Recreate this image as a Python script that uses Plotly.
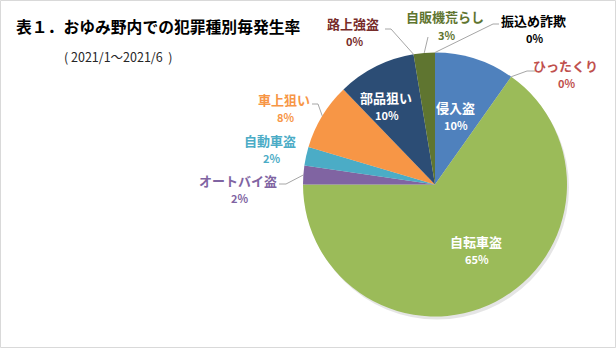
import plotly.graph_objects as go
import math

W, H = 616, 348

categories = ["侵入盗", "ひったくり", "自転車盗", "オートバイ盗", "自動車盗",
              "車上狙い", "部品狙い", "路上強盗", "自販機荒らし", "振込め詐欺"]
values = [9.8, 0.0, 65.2, 2.3, 2.3, 8.2, 9.6, 0.0, 2.6, 0.0]
slice_colors = ["#4F81BD", "#C0504D", "#9BBB59", "#8064A2", "#4BACC6",
                "#F79646", "#2C4D75", "#772C2A", "#5F7530", "#4D3B62"]
label_colors = ["#FFFFFF", "#C0504D", "#FFFFFF", "#8064A2", "#4BACC6",
                "#F79646", "#FFFFFF", "#772C2A", "#5F7530", "#000000"]

title = "表１．おゆみ野内での犯罪種別毎発生率"
subtitle = "( 2021/1～2021/6  )"

# layout: pie centre / radius in px
CX, CY, R = 435, 184.5, 132
# label centres (px) and leader-line elbows (px) -- layout only
label_pos = {
    "侵入盗": (455, 107), "ひったくり": (565, 65), "自転車盗": (476, 241),
    "オートバイ盗": (238, 180), "自動車盗": (270, 140), "車上狙い": (284, 99),
    "部品狙い": (386, 97), "路上強盗": (353, 23), "自販機荒らし": (445, 17),
    "振込め詐欺": (533, 20),
}
leaders = {
    "ひったくり": [(535, 71), (527, 71)],
    "オートバイ盗": [(279, 184), (286, 184)],
    "車上狙い": [(312, 104), (318, 104)],
    "路上強盗": [(385, 29), (391, 29)],
    "自販機荒らし": [(428, 37)],
    "振込め詐欺": [(499, 24), (493, 24)],
}

FONT = "Noto Sans CJK JP"
total = sum(values)
pcts = [round(v / total * 100) for v in values]

def px2paper(x, y):
    return x / W, 1 - y / H

fig = go.Figure()

# soft shadow
fig.add_trace(go.Pie(
    values=[1], marker=dict(colors=["rgba(0,0,0,0.10)"], line=dict(width=0)),
    textinfo="none", hoverinfo="skip", showlegend=False, sort=False,
    domain=dict(x=[(CX - R + 2) / W, (CX + R + 2) / W],
                y=[(H - CY - R - 3) / H, (H - CY + R - 3) / H]),
))

fig.add_trace(go.Pie(
    labels=categories, values=values, sort=False, direction="clockwise",
    rotation=0,
    marker=dict(colors=slice_colors, line=dict(width=0)),
    textinfo="none", showlegend=False,
    domain=dict(x=[(CX - R) / W, (CX + R) / W],
                y=[(H - CY - R) / H, (H - CY + R) / H]),
))

annotations = []
shapes = []
cum = 0.0
for cat, v, p, col in zip(categories, values, pcts, label_colors):
    mid = (cum + v / 2) / total
    cum += v
    ang = 2 * math.pi * mid
    ex, ey = CX + R * math.sin(ang), CY - R * math.cos(ang)
    lx, ly = label_pos[cat]
    x, y = px2paper(lx, ly)
    annotations.append(dict(x=x, y=y, xref="paper", yref="paper", showarrow=False,
                            text=f"<b>{cat}</b>", xanchor="center", yanchor="middle",
                            font=dict(family=FONT, size=13, color=col)))
    x2, y2 = px2paper(lx + 1, ly + 18)
    annotations.append(dict(x=x2, y=y2, xref="paper", yref="paper", showarrow=False,
                            text=f"<b>{p}%</b>", xanchor="center", yanchor="middle",
                            font=dict(family=FONT, size=11, color=col)))
    if cat in leaders:
        pts = leaders[cat] + [(ex, ey)]
        path = "M " + " L ".join(f"{a},{H - b}" for a, b in pts)
        shapes.append(dict(type="path", path=path, xref="x", yref="y",
                           line=dict(color="#A6A6A6", width=1)))

annotations.append(dict(x=14 / W, y=1 - 27 / H, xref="paper", yref="paper", showarrow=False,
                        text=f"<b>{title}</b>", xanchor="left", yanchor="middle",
                        font=dict(family=FONT, size=15.8, color="#000000")))
annotations.append(dict(x=62 / W, y=1 - 57 / H, xref="paper", yref="paper", showarrow=False,
                        text=subtitle, xanchor="left", yanchor="middle",
                        font=dict(family=FONT, size=12.5, color="#262626")))

shapes.append(dict(type="rect", xref="paper", yref="paper", x0=0.5 / W, y0=0.5 / H,
                   x1=1 - 0.5 / W, y1=1 - 0.5 / H, line=dict(color="#D9D9D9", width=1)))

fig.update_layout(
    width=W, height=H, margin=dict(l=0, r=0, t=0, b=0),
    paper_bgcolor="white", plot_bgcolor="rgba(0,0,0,0)",
    xaxis=dict(range=[0, W], visible=False, fixedrange=True),
    yaxis=dict(range=[0, H], visible=False, fixedrange=True),
    annotations=annotations, shapes=shapes,
)
fig.write_html("out.html")
